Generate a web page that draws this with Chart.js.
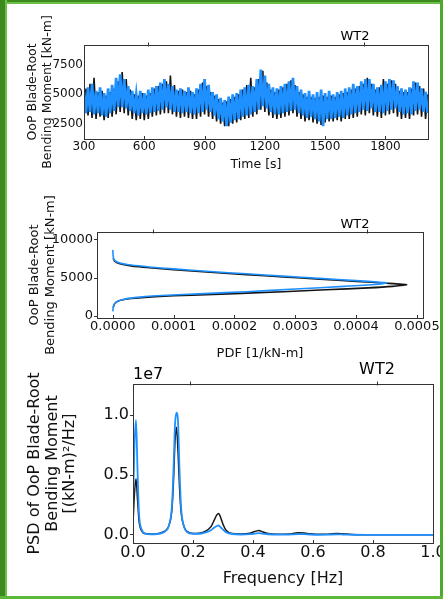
<!DOCTYPE html>
<html><head><meta charset="utf-8">
<script src="https://cdn.jsdelivr.net/npm/chart.js@4/dist/chart.umd.min.js"></script>
<style>
html,body{margin:0;padding:0;background:#fff;}
body{width:443px;height:599px;position:relative;overflow:hidden;}
canvas{position:absolute;left:0;}
.b{position:absolute;}
</style></head><body>
<canvas id="c1" width="443" height="180" style="top:0px"></canvas>
<canvas id="c2" width="443" height="185" style="top:180px"></canvas>
<canvas id="c3" width="443" height="239" style="top:360px"></canvas>
<div class="b" style="left:0;top:0;width:443px;height:2px;background:#3c8a1e"></div>
<div class="b" style="left:0;top:2px;width:443px;height:2px;background:#6cc04a"></div>
<div class="b" style="left:0;top:0;width:5px;height:599px;background:#3c8a1e"></div>
<div class="b" style="left:5px;top:0;width:2px;height:599px;background:#6cc04a"></div>
<div class="b" style="left:440px;top:0;width:3px;height:599px;background:#4ea82c"></div>
<div class="b" style="left:0;top:596px;width:443px;height:3px;background:#5db83a"></div>
<script>
// ---------- Panel 1: time series ----------
const timeS = [300,310,320,330,340,350,360,370,380,390,400,410,420,430,440,450,460,470,480,490,
500,510,520,530,540,550,560,570,580,590,600,610,620,630,640,650,660,670,680,690,
700,710,720,730,740,750,760,770,780,790,800,810,820,830,840,850,860,870,880,890,
900,910,920,930,940,950,960,970,980,990,1000,1010,1020,1030,1040,1050,1060,1070,1080,1090,
1100,1110,1120,1130,1140,1150,1160,1170,1180,1190,1200,1210,1220,1230,1240,1250,1260,1270,1280,1290,
1300,1310,1320,1330,1340,1350,1360,1370,1380,1390,1400,1410,1420,1430,1440,1450,1460,1470,1480,1490,
1500,1510,1520,1530,1540,1550,1560,1570,1580,1590,1600,1610,1620,1630,1640,1650,1660,1670,1680,1690,
1700,1710,1720,1730,1740,1750,1760,1770,1780,1790,1800,1810,1820,1830,1840,1850,1860,1870,1880,1890,
1900,1910,1920,1930,1940,1950,1960,1970,1980,1990,2000,2010];
const blueMoment = [5200,3400,5600,3500,5900,3300,5300,3400,5600,3200,5100,3100,5500,3400,5800,3600,6400,3900,6700,3900,
6300,3800,5700,3600,5300,3400,5000,3200,5300,3400,5100,3300,5400,3400,5600,3500,5700,3600,6000,3700,
6300,3900,5900,3700,5700,3500,5400,3500,5500,3400,5300,3500,5600,3400,5200,3300,5500,3400,5900,3500,
6300,3700,5800,3500,5200,3200,5000,2900,4700,2700,4500,2300,4800,2600,5000,2800,5100,2900,5400,3100,
5600,3200,5800,3300,5700,3500,6300,3700,7100,4000,6600,3800,5900,3500,5600,3300,5500,3300,5700,3400,
5900,3500,6100,3600,6400,3700,5700,3400,5400,3200,5100,3000,5300,3100,5000,2900,5200,2700,5400,2300,
5100,2900,5300,2900,5000,3000,5200,3100,5300,3000,5500,3200,5600,3300,5900,3400,5700,3500,6100,3700,
6300,3600,6300,3800,5900,3500,5600,3500,5800,3400,6100,3600,6300,3700,6200,3800,5700,3500,5500,3300,
5400,3400,5600,3300,6100,3600,6000,3700,5500,3500,5200,3400];
const blackMoment = [3000,5500,3200,5900,3000,6400,2900,5200,3100,5300,2800,4900,3000,5200,3100,5500,3300,6100,3500,6900,
3400,6300,3200,5400,2900,5000,2800,4900,2900,5100,2800,4900,2900,5100,3100,5500,3200,5700,3300,5900,
3400,6100,3400,6600,3300,5800,3100,5300,3000,5400,3100,5200,3000,5300,2900,5000,2900,5400,3100,6000,
3300,5700,3100,5200,2900,4900,2700,4600,2500,4300,2300,4400,2300,4600,2500,4800,2600,5000,2800,5400,
2900,5800,3000,6400,3100,5600,3300,6300,3700,7000,3500,6000,3200,5400,3000,5200,2900,5400,3000,5600,
3100,5900,3200,6200,3400,5800,3100,5200,2900,5000,2700,4800,2800,4800,2600,4700,2500,4800,2400,4900,
2600,4800,2700,4900,2700,4800,2800,5000,2700,5100,2900,5200,2900,5400,3000,5500,3100,5700,3300,5900,
3200,6400,3400,5900,3200,5400,3100,5600,3000,6300,3200,5900,3300,6200,3400,5900,3100,5300,2900,5200,
3000,5200,2900,5500,3200,6000,3300,5700,3100,5500,2900,5000];
const timeTicks = [300,600,900,1200,1500,1800];
const moment1Ticks = [2500,5000,7500];

// ---------- Panel 2: PDF ----------
const pdfBlackX = [0.0000005,0.000003,0.00001,0.00003,0.00006,0.0001,0.00016,0.00022,0.00028,0.00034,0.0004,0.00045,0.000483,0.00046,0.00042,0.00035,0.00028,0.0002,0.00013,0.00007,0.00003,0.00001,0.000003,0.0000005];
const pdfBlackY = [7600,7200,6900,6600,6350,6100,5750,5450,5150,4850,4550,4320,4120,3900,3700,3450,3200,2950,2750,2550,2300,2000,1600,1100];
const pdfBlueX = [0,0.0000005,0.000002,0.00001,0.00003,0.00006,0.0001,0.00016,0.00022,0.00028,0.00034,0.0004,0.00044,0.00045,0.00043,0.00038,0.0003,0.00022,0.00015,0.00008,0.00004,0.000015,0.000005,0.000001,0];
const pdfBlueY = [8700,8000,7400,7000,6700,6450,6200,5850,5550,5250,4950,4650,4450,4350,4150,3900,3550,3200,2950,2700,2450,2150,1800,1300,600];
const pdfTicks = [0,0.0001,0.0002,0.0003,0.0004,0.0005];
const moment2Ticks = [0,5000,10000];

// ---------- Panel 3: PSD (units of 1e7) ----------
const psdFreq = [0,0.005,0.01,0.015,0.02,0.03,0.04,0.06,0.08,0.1,0.11,0.12,0.13,0.135,0.14,0.145,0.15,0.155,0.16,0.17,0.18,0.2,0.22,0.24,0.26,0.27,0.28,0.285,0.29,0.3,0.31,0.33,0.36,0.39,0.41,0.42,0.43,0.45,0.48,0.52,0.55,0.57,0.59,0.62,0.65,0.68,0.7,0.73,0.78,0.85,0.9,1.0];
const psdBlack = [0.10,0.35,0.47,0.30,0.12,0.03,0.012,0.008,0.01,0.025,0.04,0.08,0.22,0.45,0.78,0.90,0.70,0.40,0.20,0.07,0.03,0.012,0.015,0.03,0.07,0.12,0.17,0.18,0.16,0.09,0.04,0.012,0.008,0.015,0.032,0.038,0.028,0.012,0.006,0.008,0.018,0.016,0.01,0.005,0.007,0.013,0.01,0.004,0.002,0.001,0.001,0.001];
const psdBlue = [0.25,0.75,0.96,0.55,0.18,0.04,0.012,0.006,0.008,0.02,0.035,0.08,0.25,0.55,0.92,1.02,0.95,0.55,0.24,0.07,0.025,0.01,0.01,0.02,0.04,0.06,0.075,0.08,0.07,0.045,0.022,0.008,0.004,0.007,0.013,0.015,0.012,0.006,0.003,0.004,0.007,0.007,0.004,0.002,0.003,0.005,0.004,0.002,0.001,0.001,0.001,0.001];
const freqTicks = [0,0.2,0.4,0.6,0.8,1.0];
const psdTicks = [0,0.5,1.0];

const BLUE = '#1e90ff';
const BLACK = 'rgba(0,0,0,0.92)';
const FONT = "'DejaVu Sans', sans-serif";
Chart.defaults.font.family = FONT;
Chart.defaults.color = '#000';

const deco = {
  id: 'deco',
  afterDatasetsDraw(chart, args, o) {
    const {ctx, chartArea: a, scales: {x}} = chart;
    ctx.save();
    ctx.strokeStyle = '#333';
    ctx.lineWidth = 1;
    const L = Math.round(a.left) + 0.5, T = Math.round(a.top) + 0.5;
    const R = Math.round(a.right) + 0.5, B = Math.round(a.bottom) + 0.5;
    ctx.strokeRect(L, T, R - L, B - T);
    ctx.beginPath();
    x.ticks.forEach(t => {
      const px = Math.round(x.getPixelForValue(t.value)) + 0.5;
      ctx.moveTo(px, B); ctx.lineTo(px, B - 3.5);
    });
    (o.top || []).forEach(v => {
      const px = Math.round(x.getPixelForValue(v)) + 0.5;
      ctx.moveTo(px, T - 3); ctx.lineTo(px, T + 1);
    });
    ctx.stroke();
    ctx.fillStyle = '#000';
    ctx.textBaseline = 'middle';
    (o.texts || []).forEach(t => {
      ctx.font = t.size + 'px ' + FONT;
      ctx.textAlign = t.align;
      ctx.fillText(t.text, a.left + t.dx, a.top + t.dy);
    });
    ctx.restore();
  }
};

function axes(o) {
  return {
    x: {
      type: 'linear', min: o.xmin, max: o.xmax,
      afterBuildTicks: s => { s.ticks = o.xticks.map(v => ({value: v})); },
      afterFit: s => { s.height = o.xh; s.paddingLeft = 0; s.paddingRight = 0; },
      ticks: {autoSkip: false, maxRotation: 0, padding: o.xpad, color: '#111',
              font: {size: o.fs}, callback: o.xfmt},
      grid: {drawOnChartArea: false, drawTicks: false},
      border: {display: false},
      title: {display: true, text: o.xtitle, color: '#111', font: {size: o.tfs},
              padding: {top: 0, bottom: o.xtpad}}
    },
    y: {
      type: 'linear', min: o.ymin, max: o.ymax,
      afterBuildTicks: s => { s.ticks = o.yticks.map(v => ({value: v})); },
      afterFit: s => { s.width = o.yw; s.paddingTop = 0; s.paddingBottom = 0; },
      ticks: {autoSkip: false, padding: o.ypad, color: '#111', font: {size: o.fs}, callback: o.yfmt},
      grid: {drawOnChartArea: false, drawTicks: o.ytl > 0, tickLength: o.ytl, color: '#333'},
      border: {display: false},
      title: {display: true, text: o.ytitle, color: '#111',
              font: {size: o.tfs, lineHeight: o.tlh}, padding: {top: 0, bottom: 0}}
    }
  };
}
const common = {responsive: false, animation: false, events: []};

new Chart(document.getElementById('c1'), {
  type: 'line',
  data: {datasets: [
    {data: timeS.map((t, i) => ({x: t, y: blueMoment[i]})), borderColor: BLUE, borderWidth: 2.7, pointRadius: 0, tension: 0},
    {data: timeS.map((t, i) => ({x: t, y: blackMoment[i]})), borderColor: BLACK, borderWidth: 1.6, pointRadius: 0, tension: 0}
  ]},
  options: Object.assign({}, common, {
    layout: {padding: {left: 25, right: 15, top: 45, bottom: 0}},
    plugins: {legend: {display: false}, tooltip: {enabled: false},
      deco: {top: [620, 1695], texts: [{text: 'WT2', size: 13, align: 'center', dx: 271, dy: -8}]}},
    scales: axes({xmin: 300, xmax: 2012, xticks: timeTicks, xh: 41, xpad: 1, fs: 12, tfs: 12.5, tlh: 1.2,
      xfmt: v => String(v), xtitle: 'Time [s]', xtpad: 7.5,
      ymin: 1200, ymax: 9200, yticks: moment1Ticks, yw: 59, ypad: 1, ytl: 0, yfmt: v => String(v),
      ytitle: ['OoP Blade-Root', 'Bending Moment [kN-m]']})
  }),
  plugins: [deco]
});

new Chart(document.getElementById('c2'), {
  type: 'line',
  data: {datasets: [
    {data: pdfBlueX.map((p, i) => ({x: p, y: pdfBlueY[i]})), borderColor: BLUE, borderWidth: 1.6, pointRadius: 0, tension: 0.2},
    {data: pdfBlackX.map((p, i) => ({x: p, y: pdfBlackY[i]})), borderColor: BLACK, borderWidth: 1.6, pointRadius: 0, tension: 0.2}
  ]},
  options: Object.assign({}, common, {
    layout: {padding: {left: 27, right: 20, top: 52, bottom: 0}},
    plugins: {legend: {display: false}, tooltip: {enabled: false},
      deco: {top: [0.0000658, 0.000418], texts: [{text: 'WT2', size: 13, align: 'center', dx: 258, dy: -7}]}},
    scales: axes({xmin: -0.000026, xmax: 0.00051, xticks: pdfTicks, xh: 47, xpad: 1, fs: 13, tfs: 13, tlh: 1.2,
      xfmt: v => v.toFixed(4), xtitle: 'PDF [1/kN-m]', xtpad: 3.2,
      ymin: -260, ymax: 11050, yticks: moment2Ticks, yw: 70, ypad: 1, ytl: 3, yfmt: v => String(v),
      ytitle: ['OoP Blade-Root', 'Bending Moment [kN-m]']})
  }),
  plugins: [deco]
});

new Chart(document.getElementById('c3'), {
  type: 'line',
  data: {datasets: [
    {data: psdFreq.map((f, i) => ({x: f, y: psdBlue[i]})), borderColor: BLUE, borderWidth: 1.8, pointRadius: 0, cubicInterpolationMode: 'monotone'},
    {data: psdFreq.map((f, i) => ({x: f, y: psdBlack[i]})), borderColor: BLACK, borderWidth: 1.5, pointRadius: 0, cubicInterpolationMode: 'monotone'}
  ]},
  options: Object.assign({}, common, {
    layout: {padding: {left: 26, right: 10, top: 24, bottom: 0}},
    plugins: {legend: {display: false}, tooltip: {enabled: false},
      deco: {top: [0.19, 0.813], texts: [
        {text: 'WT2', size: 16, align: 'center', dx: 244, dy: -14},
        {text: '1e7', size: 16, align: 'left', dx: 0, dy: -9}]}},
    scales: axes({xmin: 0, xmax: 1.0, xticks: freqTicks, xh: 56, xpad: 0, fs: 16, tfs: 16, tlh: 1.1,
      xfmt: v => v.toFixed(1), xtitle: 'Frequency [Hz]', xtpad: 11,
      ymin: -0.067, ymax: 1.26, yticks: psdTicks, yw: 107, ypad: 1, ytl: 3, yfmt: v => v.toFixed(1),
      ytitle: ['PSD of OoP Blade-Root', 'Bending Moment', '[(kN-m)²/Hz]']})
  }),
  plugins: [deco]
});
</script>
</body></html>
